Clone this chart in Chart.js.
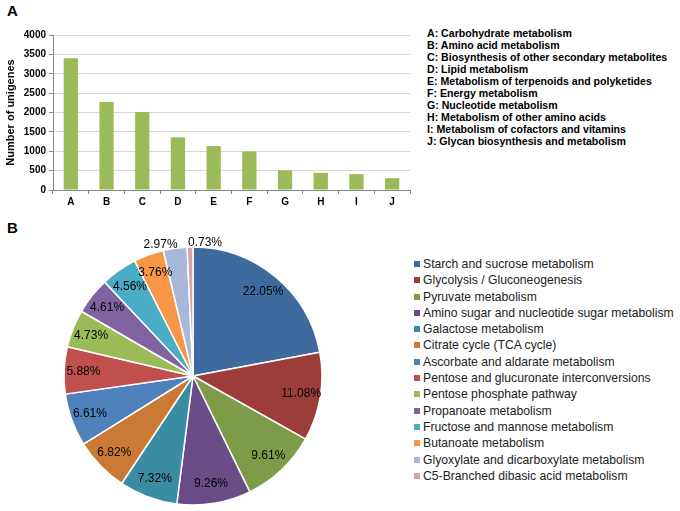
<!DOCTYPE html>
<html>
<head>
<meta charset="utf-8">
<script src="https://cdn.jsdelivr.net/npm/chart.js@4.4.1/dist/chart.umd.min.js"></script>
<style>
  body { margin: 0; background: #fff; font-family: "Liberation Sans", Arial, sans-serif; }
  #wrap { position: relative; width: 680px; height: 511px; overflow: hidden; }
  .panel { position: absolute; font-weight: bold; font-size: 15px; line-height: 15px; }
  #bar-chart { position: absolute; left: 0; top: 0; }
  #pie-chart { position: absolute; left: 0; top: 231px; }
  #legend-a { position: absolute; left: 427px; top: 27px; font-size: 10.6px; font-weight: bold; line-height: 12px; color: #000; white-space: nowrap; }
  #legend-b { position: absolute; left: 414px; top: 256px; font-size: 12.2px; line-height: 16.3px; color: #222; white-space: nowrap; }
  #legend-b .sw { display: inline-block; width: 6px; height: 6px; margin-right: 3px; vertical-align: 1px; }
</style>
</head>
<body>
<div id="wrap">
  <div class="panel" style="left:7px; top:3px;">A</div>
  <div class="panel" style="left:7px; top:220px;">B</div>
  <canvas id="bar-chart" width="420" height="215"></canvas>
  <div id="legend-a"></div>
  <canvas id="pie-chart" width="386" height="290"></canvas>
  <div id="legend-b"></div>
</div>
<script>
// Panel A: KEGG metabolism categories
const barLabels = ['A', 'B', 'C', 'D', 'E', 'F', 'G', 'H', 'I', 'J'];
const barValues = [3400, 2270, 2010, 1360, 1135, 995, 510, 445, 410, 305];
const barNames = [
    'Carbohydrate metabolism',
    'Amino acid metabolism',
    'Biosynthesis of other secondary metabolites',
    'Lipid metabolism',
    'Metabolism of terpenoids and polyketides',
    'Energy metabolism',
    'Nucleotide metabolism',
    'Metabolism of other amino acids',
    'Metabolism of cofactors and vitamins',
    'Glycan biosynthesis and metabolism'
];

// Panel B: carbohydrate metabolism pathways (%)
const pieLabels = [
    'Starch and sucrose metabolism',
    'Glycolysis / Gluconeogenesis',
    'Pyruvate metabolism',
    'Amino sugar and nucleotide sugar metabolism',
    'Galactose metabolism',
    'Citrate cycle (TCA cycle)',
    'Ascorbate and aldarate metabolism',
    'Pentose and glucuronate interconversions',
    'Pentose phosphate pathway',
    'Propanoate metabolism',
    'Fructose and mannose metabolism',
    'Butanoate metabolism',
    'Glyoxylate and dicarboxylate metabolism',
    'C5-Branched dibasic acid metabolism'
];
const pieValues = [22.05, 11.08, 9.61, 9.26, 7.32, 6.82, 6.61, 5.88, 4.73, 4.61, 4.56, 3.76, 2.97, 0.73];
const pieColors = [
    '#3E6A9E', '#9C3D3A', '#7E9B47', '#684D86', '#3A8CA3', '#CB7A36',
    '#4F81BD', '#C0504D', '#9BBB59', '#8064A2', '#4BACC6', '#F79646',
    '#A9B8D8', '#D9A3A3'
];

const FONT = '"Liberation Sans", Arial, sans-serif';
Chart.defaults.font.family = FONT;
Chart.defaults.color = '#000';

// legend A
document.getElementById('legend-a').innerHTML =
    barLabels.map((l, i) => `<div>${l}: ${barNames[i]}</div>`).join('');

// legend B
document.getElementById('legend-b').innerHTML =
    pieLabels.map((l, i) => `<div><span class="sw" style="background:${pieColors[i]}"></span>${l}</div>`).join('');

new Chart(document.getElementById('bar-chart'), {
    type: 'bar',
    data: {
        labels: barLabels,
        datasets: [{
            data: barValues,
            backgroundColor: '#9BBB59',
            categoryPercentage: 1,
            barPercentage: 0.4
        }]
    },
    options: {
        responsive: false,
        animation: false,
        layout: { padding: { top: 35, right: 10, left: 0, bottom: 0 } },
        plugins: {
            legend: { display: false },
            tooltip: { enabled: false }
        },
        scales: {
            x: {
                grid: { drawOnChartArea: false, color: '#868686', tickLength: 4 },
                border: { color: '#868686' },
                ticks: { font: { size: 10, weight: 'bold' }, padding: 2 },
                afterFit: s => { s.height = 25; }
            },
            y: {
                min: 0,
                max: 4000,
                ticks: {
                    stepSize: 500,
                    font: { size: 10, weight: 'bold' },
                    padding: 3,
                    callback: v => String(v)
                },
                grid: { color: '#D9D9D9', tickColor: '#868686', tickLength: 4 },
                border: { color: '#868686' },
                title: {
                    display: true,
                    text: 'Number of unigenes',
                    font: { size: 11, weight: 'bold' },
                    padding: { top: 4, bottom: 0 }
                },
                afterFit: s => { s.width = 53; }
            }
        }
    }
});

// percentage labels on the pie
const pieLabelPlugin = {
    id: 'pieLabels',
    afterDatasetsDraw(chart) {
        const ctx = chart.ctx;
        const meta = chart.getDatasetMeta(0);
        const n = meta.data.length;
        ctx.save();
        ctx.font = '12px ' + FONT;
        ctx.fillStyle = '#000';
        ctx.textBaseline = 'middle';
        meta.data.forEach((arc, i) => {
            const p = arc.getProps(['x', 'y', 'startAngle', 'endAngle', 'outerRadius']);
            const mid = (p.startAngle + p.endAngle) / 2;
            const v = pieValues[i];
            const outside = v < 3.5;
            const r = p.outerRadius * (outside ? 1.03 : 0.85);
            let x = p.x + Math.cos(mid) * r;
            const y = p.y + Math.sin(mid) * r;
            let align = 'center';
            if (outside) {
                align = i === n - 1 ? 'left' : 'right';
                x += i === n - 1 ? -2 : 3;
            }
            ctx.textAlign = align;
            ctx.fillText(v.toFixed(2) + '%', x, y);
        });
        ctx.restore();
    }
};

new Chart(document.getElementById('pie-chart'), {
    type: 'pie',
    data: {
        labels: pieLabels,
        datasets: [{
            data: pieValues,
            backgroundColor: pieColors,
            borderColor: '#fff',
            borderWidth: 1.5
        }]
    },
    options: {
        responsive: false,
        animation: false,
        radius: 129,
        layout: { padding: 0 },
        plugins: {
            legend: { display: false },
            tooltip: { enabled: false }
        }
    },
    plugins: [pieLabelPlugin]
});
</script>
</body>
</html>
